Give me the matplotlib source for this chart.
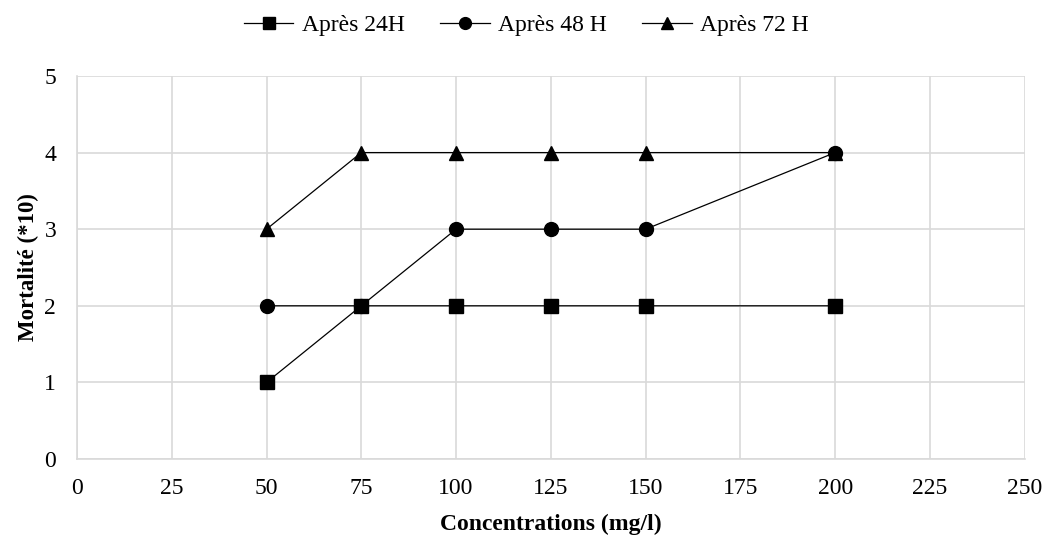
import matplotlib

matplotlib.use("Agg")

import matplotlib.pyplot as plt

plt.rcParams["font.family"] = ["Liberation Serif", "DejaVu Serif"]

concentrations = [50, 75, 100, 125, 150, 200]
mort_24h = [1, 2, 2, 2, 2, 2]
mort_48h = [2, 2, 3, 3, 3, 4]
mort_72h = [3, 4, 4, 4, 4, 4]

series = [
    ("Après 24H", mort_24h, "s"),
    ("Après 48 H", mort_48h, "o"),
    ("Après 72 H", mort_72h, "^"),
]

fig = plt.figure(figsize=(10.46, 5.35), dpi=100)
ax = fig.add_axes([0.0736, 0.142, 0.906, 0.716])

for label, values, marker in series:
    ax.plot(concentrations, values, color="black", linewidth=0.9,
            marker=marker, markersize=10, label=label)

ax.set_xlim(0, 250)
ax.set_ylim(0, 5)
ax.set_xticks(range(0, 251, 25))
ax.set_yticks(range(0, 6))
ax.grid(True, color="#d9d9d9", linewidth=1.2)
ax.set_axisbelow(True)
ax.tick_params(length=0, labelsize=17)
ax.tick_params(axis="x", pad=14)
ax.tick_params(axis="y", pad=15)
for side in ("top", "right"):
    ax.spines[side].set_visible(False)
for side in ("left", "bottom"):
    ax.spines[side].set_color("#d9d9d9")
    ax.spines[side].set_linewidth(1.2)

ax.set_xlabel("Concentrations (mg/l)", fontsize=17, fontweight="bold", labelpad=10)
ax.set_ylabel("Mortalité (*10)", fontsize=16.5, fontweight="bold", labelpad=4)

fig.legend(loc="upper center", bbox_to_anchor=(0.503, 1.012), ncol=3, frameon=False,
           fontsize=17, handlelength=2.1, columnspacing=1.5, handletextpad=0.35,
           markerscale=0.85)

fig.savefig("out.png", dpi=100)
